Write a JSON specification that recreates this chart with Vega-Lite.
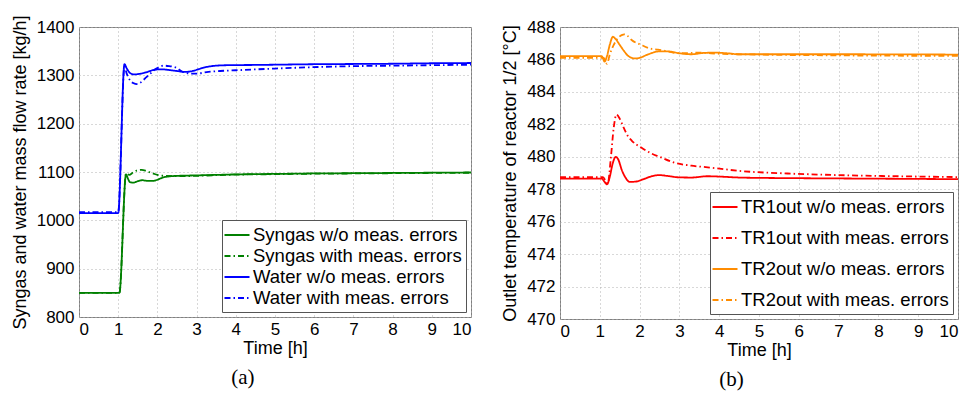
{
"$schema": "https://vega.github.io/schema/vega-lite/v6.json",
"background": "white",
"padding": {"left": 10, "top": 14, "right": 4, "bottom": 4},
"spacing": 25,
"resolve": {"scale": {"color": "independent", "strokeDash": "independent", "x": "independent", "y": "independent"}, "legend": {"color": "independent", "strokeDash": "independent"}},
"config": {
  "font": "Liberation Sans",
  "view": {"stroke": "#808080", "strokeWidth": 1},
  "axis": {"grid": true, "gridDash": [1, 3], "gridColor": "#b0b0b0", "domain": false, "ticks": false, "labelFontSize": 17, "labelColor": "black", "titleFontSize": 18, "titleFontWeight": "normal", "titleColor": "black", "labelPadding": 5, "format": "d"},
  "axisX": {"labelPadding": 4, "titlePadding": 2, "titleFontWeight": "normal"},
  "axisY": {"titlePadding": 7, "titleFontWeight": "normal"},
  "legend": {"orient": "bottom-right", "offset": 5, "padding": 4, "strokeColor": "#555555", "fillColor": "white", "labelFontSize": 18.5, "labelColor": "black", "symbolType": "M-1.25,0H1.25", "symbolSize": 400, "symbolStrokeWidth": 2, "labelOffset": 5, "labelLimit": 400, "title": null},
  "title": {"font": "Liberation Serif", "fontSize": 21, "fontWeight": "normal", "orient": "bottom", "frame": "bounds", "anchor": "middle", "offset": 10, "color": "black"}
},
"datasets": {
  "left": [
    {"t": 0, "v": 850, "s": "Syngas w/o meas. errors"},
    {"t": 1.03, "v": 850, "s": "Syngas w/o meas. errors"},
    {"t": 1.2, "v": 1095, "s": "Syngas w/o meas. errors"},
    {"t": 1.25, "v": 1086, "s": "Syngas w/o meas. errors"},
    {"t": 1.3, "v": 1079, "s": "Syngas w/o meas. errors"},
    {"t": 1.38, "v": 1078, "s": "Syngas w/o meas. errors"},
    {"t": 1.5, "v": 1081, "s": "Syngas w/o meas. errors"},
    {"t": 1.62, "v": 1083, "s": "Syngas w/o meas. errors"},
    {"t": 1.75, "v": 1081.5, "s": "Syngas w/o meas. errors"},
    {"t": 1.86, "v": 1081.5, "s": "Syngas w/o meas. errors"},
    {"t": 2.0, "v": 1084, "s": "Syngas w/o meas. errors"},
    {"t": 2.12, "v": 1088, "s": "Syngas w/o meas. errors"},
    {"t": 2.3, "v": 1091, "s": "Syngas w/o meas. errors"},
    {"t": 2.5, "v": 1092, "s": "Syngas w/o meas. errors"},
    {"t": 3.0, "v": 1093, "s": "Syngas w/o meas. errors"},
    {"t": 3.5, "v": 1094, "s": "Syngas w/o meas. errors"},
    {"t": 4, "v": 1095, "s": "Syngas w/o meas. errors"},
    {"t": 5, "v": 1096, "s": "Syngas w/o meas. errors"},
    {"t": 6, "v": 1097, "s": "Syngas w/o meas. errors"},
    {"t": 7, "v": 1097.5, "s": "Syngas w/o meas. errors"},
    {"t": 8, "v": 1098, "s": "Syngas w/o meas. errors"},
    {"t": 9, "v": 1098.5, "s": "Syngas w/o meas. errors"},
    {"t": 10, "v": 1099, "s": "Syngas w/o meas. errors"},
    {"t": 0, "v": 850, "s": "Syngas with meas. errors"},
    {"t": 1.03, "v": 850, "s": "Syngas with meas. errors"},
    {"t": 1.2, "v": 1097, "s": "Syngas with meas. errors"},
    {"t": 1.28, "v": 1094, "s": "Syngas with meas. errors"},
    {"t": 1.38, "v": 1099, "s": "Syngas with meas. errors"},
    {"t": 1.47, "v": 1103, "s": "Syngas with meas. errors"},
    {"t": 1.6, "v": 1104.5, "s": "Syngas with meas. errors"},
    {"t": 1.72, "v": 1102, "s": "Syngas with meas. errors"},
    {"t": 1.82, "v": 1099, "s": "Syngas with meas. errors"},
    {"t": 1.92, "v": 1096, "s": "Syngas with meas. errors"},
    {"t": 2.0, "v": 1094, "s": "Syngas with meas. errors"},
    {"t": 2.2, "v": 1092, "s": "Syngas with meas. errors"},
    {"t": 2.5, "v": 1091.5, "s": "Syngas with meas. errors"},
    {"t": 3, "v": 1092, "s": "Syngas with meas. errors"},
    {"t": 3.5, "v": 1093.5, "s": "Syngas with meas. errors"},
    {"t": 4, "v": 1094.5, "s": "Syngas with meas. errors"},
    {"t": 5, "v": 1095.5, "s": "Syngas with meas. errors"},
    {"t": 6, "v": 1096.5, "s": "Syngas with meas. errors"},
    {"t": 7, "v": 1097, "s": "Syngas with meas. errors"},
    {"t": 8, "v": 1097.5, "s": "Syngas with meas. errors"},
    {"t": 9, "v": 1098, "s": "Syngas with meas. errors"},
    {"t": 10, "v": 1098.5, "s": "Syngas with meas. errors"},
    {"t": 0, "v": 1015, "s": "Water w/o meas. errors"},
    {"t": 1.0, "v": 1015, "s": "Water w/o meas. errors"},
    {"t": 1.16, "v": 1323, "s": "Water w/o meas. errors"},
    {"t": 1.22, "v": 1314, "s": "Water w/o meas. errors"},
    {"t": 1.3, "v": 1305, "s": "Water w/o meas. errors"},
    {"t": 1.4, "v": 1302, "s": "Water w/o meas. errors"},
    {"t": 1.5, "v": 1302.5, "s": "Water w/o meas. errors"},
    {"t": 1.7, "v": 1306, "s": "Water w/o meas. errors"},
    {"t": 1.9, "v": 1311, "s": "Water w/o meas. errors"},
    {"t": 2.1, "v": 1312.5, "s": "Water w/o meas. errors"},
    {"t": 2.3, "v": 1311, "s": "Water w/o meas. errors"},
    {"t": 2.5, "v": 1309, "s": "Water w/o meas. errors"},
    {"t": 2.7, "v": 1307, "s": "Water w/o meas. errors"},
    {"t": 2.9, "v": 1309, "s": "Water w/o meas. errors"},
    {"t": 3.1, "v": 1314, "s": "Water w/o meas. errors"},
    {"t": 3.3, "v": 1318, "s": "Water w/o meas. errors"},
    {"t": 3.5, "v": 1320, "s": "Water w/o meas. errors"},
    {"t": 3.8, "v": 1321, "s": "Water w/o meas. errors"},
    {"t": 4.5, "v": 1321.5, "s": "Water w/o meas. errors"},
    {"t": 5, "v": 1322, "s": "Water w/o meas. errors"},
    {"t": 6, "v": 1323, "s": "Water w/o meas. errors"},
    {"t": 7, "v": 1323.5, "s": "Water w/o meas. errors"},
    {"t": 8, "v": 1324, "s": "Water w/o meas. errors"},
    {"t": 9, "v": 1325, "s": "Water w/o meas. errors"},
    {"t": 10, "v": 1325.5, "s": "Water w/o meas. errors"},
    {"t": 0, "v": 1017, "s": "Water with meas. errors"},
    {"t": 1.0, "v": 1017, "s": "Water with meas. errors"},
    {"t": 1.16, "v": 1318, "s": "Water with meas. errors"},
    {"t": 1.22, "v": 1303, "s": "Water with meas. errors"},
    {"t": 1.3, "v": 1290, "s": "Water with meas. errors"},
    {"t": 1.38, "v": 1284, "s": "Water with meas. errors"},
    {"t": 1.46, "v": 1282, "s": "Water with meas. errors"},
    {"t": 1.55, "v": 1284, "s": "Water with meas. errors"},
    {"t": 1.69, "v": 1294, "s": "Water with meas. errors"},
    {"t": 1.8, "v": 1302, "s": "Water with meas. errors"},
    {"t": 1.9, "v": 1310, "s": "Water with meas. errors"},
    {"t": 2.0, "v": 1315, "s": "Water with meas. errors"},
    {"t": 2.16, "v": 1320, "s": "Water with meas. errors"},
    {"t": 2.3, "v": 1319, "s": "Water with meas. errors"},
    {"t": 2.46, "v": 1316.5, "s": "Water with meas. errors"},
    {"t": 2.63, "v": 1308, "s": "Water with meas. errors"},
    {"t": 2.8, "v": 1304, "s": "Water with meas. errors"},
    {"t": 2.97, "v": 1303.5, "s": "Water with meas. errors"},
    {"t": 3.3, "v": 1307, "s": "Water with meas. errors"},
    {"t": 3.6, "v": 1309, "s": "Water with meas. errors"},
    {"t": 4, "v": 1310.5, "s": "Water with meas. errors"},
    {"t": 5, "v": 1314, "s": "Water with meas. errors"},
    {"t": 6.2, "v": 1317.5, "s": "Water with meas. errors"},
    {"t": 7, "v": 1319, "s": "Water with meas. errors"},
    {"t": 8, "v": 1320, "s": "Water with meas. errors"},
    {"t": 9, "v": 1321, "s": "Water with meas. errors"},
    {"t": 10, "v": 1322, "s": "Water with meas. errors"}
  ],
  "right": [
    {"t": 0, "v": 478.65, "s": "TR1out w/o meas. errors"},
    {"t": 1.05, "v": 478.65, "s": "TR1out w/o meas. errors"},
    {"t": 1.12, "v": 478.45, "s": "TR1out w/o meas. errors"},
    {"t": 1.18, "v": 478.3, "s": "TR1out w/o meas. errors"},
    {"t": 1.25, "v": 478.75, "s": "TR1out w/o meas. errors"},
    {"t": 1.32, "v": 479.55, "s": "TR1out w/o meas. errors"},
    {"t": 1.4, "v": 480.0, "s": "TR1out w/o meas. errors"},
    {"t": 1.47, "v": 479.8, "s": "TR1out w/o meas. errors"},
    {"t": 1.55, "v": 479.2, "s": "TR1out w/o meas. errors"},
    {"t": 1.65, "v": 478.7, "s": "TR1out w/o meas. errors"},
    {"t": 1.75, "v": 478.45, "s": "TR1out w/o meas. errors"},
    {"t": 1.9, "v": 478.47, "s": "TR1out w/o meas. errors"},
    {"t": 2.1, "v": 478.62, "s": "TR1out w/o meas. errors"},
    {"t": 2.3, "v": 478.8, "s": "TR1out w/o meas. errors"},
    {"t": 2.5, "v": 478.87, "s": "TR1out w/o meas. errors"},
    {"t": 2.7, "v": 478.82, "s": "TR1out w/o meas. errors"},
    {"t": 3.0, "v": 478.73, "s": "TR1out w/o meas. errors"},
    {"t": 3.3, "v": 478.72, "s": "TR1out w/o meas. errors"},
    {"t": 3.7, "v": 478.8, "s": "TR1out w/o meas. errors"},
    {"t": 4.0, "v": 478.78, "s": "TR1out w/o meas. errors"},
    {"t": 4.5, "v": 478.72, "s": "TR1out w/o meas. errors"},
    {"t": 5, "v": 478.7, "s": "TR1out w/o meas. errors"},
    {"t": 6, "v": 478.68, "s": "TR1out w/o meas. errors"},
    {"t": 8, "v": 478.65, "s": "TR1out w/o meas. errors"},
    {"t": 10, "v": 478.62, "s": "TR1out w/o meas. errors"},
    {"t": 0, "v": 478.75, "s": "TR1out with meas. errors"},
    {"t": 1.08, "v": 478.75, "s": "TR1out with meas. errors"},
    {"t": 1.15, "v": 478.5, "s": "TR1out with meas. errors"},
    {"t": 1.2, "v": 478.35, "s": "TR1out with meas. errors"},
    {"t": 1.28, "v": 480.0, "s": "TR1out with meas. errors"},
    {"t": 1.35, "v": 481.8, "s": "TR1out with meas. errors"},
    {"t": 1.42, "v": 482.6, "s": "TR1out with meas. errors"},
    {"t": 1.5, "v": 482.35, "s": "TR1out with meas. errors"},
    {"t": 1.6, "v": 481.8, "s": "TR1out with meas. errors"},
    {"t": 1.7, "v": 481.3, "s": "TR1out with meas. errors"},
    {"t": 1.8, "v": 481.0, "s": "TR1out with meas. errors"},
    {"t": 2.04, "v": 480.57, "s": "TR1out with meas. errors"},
    {"t": 2.3, "v": 480.2, "s": "TR1out with meas. errors"},
    {"t": 2.5, "v": 480.0, "s": "TR1out with meas. errors"},
    {"t": 2.88, "v": 479.63, "s": "TR1out with meas. errors"},
    {"t": 3.3, "v": 479.45, "s": "TR1out with meas. errors"},
    {"t": 3.71, "v": 479.35, "s": "TR1out with meas. errors"},
    {"t": 4.55, "v": 479.12, "s": "TR1out with meas. errors"},
    {"t": 5.72, "v": 478.97, "s": "TR1out with meas. errors"},
    {"t": 7, "v": 478.87, "s": "TR1out with meas. errors"},
    {"t": 8, "v": 478.82, "s": "TR1out with meas. errors"},
    {"t": 10, "v": 478.75, "s": "TR1out with meas. errors"},
    {"t": 0, "v": 486.2, "s": "TR2out w/o meas. errors"},
    {"t": 1.05, "v": 486.2, "s": "TR2out w/o meas. errors"},
    {"t": 1.12, "v": 485.86, "s": "TR2out w/o meas. errors"},
    {"t": 1.18, "v": 486.2, "s": "TR2out w/o meas. errors"},
    {"t": 1.25, "v": 486.9, "s": "TR2out w/o meas. errors"},
    {"t": 1.33, "v": 487.4, "s": "TR2out w/o meas. errors"},
    {"t": 1.4, "v": 487.25, "s": "TR2out w/o meas. errors"},
    {"t": 1.5, "v": 486.9, "s": "TR2out w/o meas. errors"},
    {"t": 1.6, "v": 486.55, "s": "TR2out w/o meas. errors"},
    {"t": 1.7, "v": 486.25, "s": "TR2out w/o meas. errors"},
    {"t": 1.8, "v": 486.1, "s": "TR2out w/o meas. errors"},
    {"t": 1.9, "v": 486.06, "s": "TR2out w/o meas. errors"},
    {"t": 2.0, "v": 486.1, "s": "TR2out w/o meas. errors"},
    {"t": 2.2, "v": 486.3, "s": "TR2out w/o meas. errors"},
    {"t": 2.5, "v": 486.5, "s": "TR2out w/o meas. errors"},
    {"t": 2.7, "v": 486.5, "s": "TR2out w/o meas. errors"},
    {"t": 3.0, "v": 486.38, "s": "TR2out w/o meas. errors"},
    {"t": 3.3, "v": 486.32, "s": "TR2out w/o meas. errors"},
    {"t": 3.6, "v": 486.4, "s": "TR2out w/o meas. errors"},
    {"t": 3.9, "v": 486.42, "s": "TR2out w/o meas. errors"},
    {"t": 4.2, "v": 486.38, "s": "TR2out w/o meas. errors"},
    {"t": 4.5, "v": 486.32, "s": "TR2out w/o meas. errors"},
    {"t": 5, "v": 486.32, "s": "TR2out w/o meas. errors"},
    {"t": 7, "v": 486.32, "s": "TR2out w/o meas. errors"},
    {"t": 10, "v": 486.3, "s": "TR2out w/o meas. errors"},
    {"t": 0, "v": 486.1, "s": "TR2out with meas. errors"},
    {"t": 1.1, "v": 486.1, "s": "TR2out with meas. errors"},
    {"t": 1.18, "v": 485.73, "s": "TR2out with meas. errors"},
    {"t": 1.25, "v": 486.3, "s": "TR2out with meas. errors"},
    {"t": 1.35, "v": 486.9, "s": "TR2out with meas. errors"},
    {"t": 1.45, "v": 487.3, "s": "TR2out with meas. errors"},
    {"t": 1.55, "v": 487.5, "s": "TR2out with meas. errors"},
    {"t": 1.62, "v": 487.55, "s": "TR2out with meas. errors"},
    {"t": 1.7, "v": 487.45, "s": "TR2out with meas. errors"},
    {"t": 1.8, "v": 487.2, "s": "TR2out with meas. errors"},
    {"t": 2.04, "v": 486.9, "s": "TR2out with meas. errors"},
    {"t": 2.3, "v": 486.65, "s": "TR2out with meas. errors"},
    {"t": 2.46, "v": 486.6, "s": "TR2out with meas. errors"},
    {"t": 2.7, "v": 486.5, "s": "TR2out with meas. errors"},
    {"t": 3.0, "v": 486.38, "s": "TR2out with meas. errors"},
    {"t": 3.5, "v": 486.42, "s": "TR2out with meas. errors"},
    {"t": 4.0, "v": 486.35, "s": "TR2out with meas. errors"},
    {"t": 5, "v": 486.3, "s": "TR2out with meas. errors"},
    {"t": 7, "v": 486.25, "s": "TR2out with meas. errors"},
    {"t": 10, "v": 486.22, "s": "TR2out with meas. errors"}
  ]
},
"hconcat": [
  {
    "width": 392, "height": 290,
    "title": {"text": "(a)"},
    "data": {"name": "left"},
    "mark": {"type": "line", "strokeWidth": 1.8, "interpolate": "monotone"},
    "encoding": {
      "x": {"field": "t", "type": "quantitative", "scale": {"domain": [0, 10], "nice": false}, "axis": {"title": "Time [h]", "titleFontWeight": "normal", "values": [0,1,2,3,4,5,6,7,8,9,10]}},
      "y": {"field": "v", "type": "quantitative", "scale": {"domain": [800, 1400], "nice": false, "zero": false}, "axis": {"title": "Syngas and water mass flow rate [kg/h]", "titleFontWeight": "normal", "values": [800,900,1000,1100,1200,1300,1400]}},
      "color": {"field": "s", "type": "nominal", "scale": {"domain": ["Syngas w/o meas. errors", "Syngas with meas. errors", "Water w/o meas. errors", "Water with meas. errors"], "range": ["#008000", "#008000", "#0000ff", "#0000ff"]}, "legend": {"rowPadding": 0}},
      "strokeDash": {"field": "s", "type": "nominal", "scale": {"domain": ["Syngas w/o meas. errors", "Syngas with meas. errors", "Water w/o meas. errors", "Water with meas. errors"], "range": [[1, 0], [6, 3, 1.5, 3], [1, 0], [6, 3, 1.5, 3]]}, "legend": {"rowPadding": 0}}
    }
  },
  {
    "width": 398, "height": 292,
    "title": {"text": "(b)"},
    "data": {"name": "right"},
    "mark": {"type": "line", "strokeWidth": 1.8, "interpolate": "monotone"},
    "encoding": {
      "x": {"field": "t", "type": "quantitative", "scale": {"domain": [0, 10], "nice": false}, "axis": {"title": "Time [h]", "titleFontWeight": "normal", "values": [0,1,2,3,4,5,6,7,8,9,10]}},
      "y": {"field": "v", "type": "quantitative", "scale": {"domain": [470, 488], "nice": false, "zero": false}, "axis": {"title": "Outlet temperature of reactor 1/2  [°C]", "titleFontWeight": "normal", "values": [470,472,474,476,478,480,482,484,486,488]}},
      "color": {"field": "s", "type": "nominal", "scale": {"domain": ["TR1out w/o meas. errors", "TR1out with meas. errors", "TR2out w/o meas. errors", "TR2out with meas. errors"], "range": ["#ff0000", "#ff0000", "#ff8c00", "#ff8c00"]}, "legend": {"rowPadding": 10}},
      "strokeDash": {"field": "s", "type": "nominal", "scale": {"domain": ["TR1out w/o meas. errors", "TR1out with meas. errors", "TR2out w/o meas. errors", "TR2out with meas. errors"], "range": [[1, 0], [6, 3, 1.5, 3], [1, 0], [6, 3, 1.5, 3]]}, "legend": {"rowPadding": 10}}
    }
  }
]
}
